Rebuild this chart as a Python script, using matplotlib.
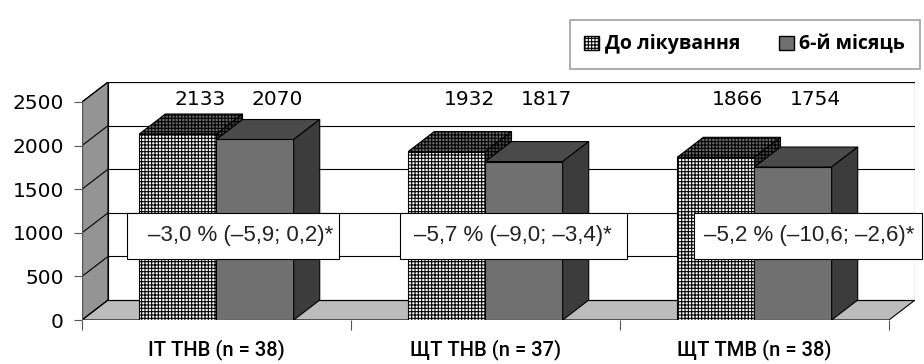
import matplotlib
matplotlib.use("Agg")
from matplotlib import pyplot as plt
from matplotlib.patches import Polygon, Rectangle, Patch

# data
categories = ["ІТ ТНВ (n = 38)", "ЩТ ТНВ (n = 37)", "ЩТ ТМВ (n = 38)"]
series_names = ["До лікування", "6-й місяць"]
before = [2133, 1932, 1866]
month6 = [2070, 1817, 1754]
notes = ["–3,0 % (–5,9; 0,2)*", "–5,7 % (–9,0; –3,4)*", "–5,2 % (–10,6; –2,6)*"]
yticks = [0, 500, 1000, 1500, 2000, 2500]

# layout of the fake 3d box
DX = 0.0968      # depth offset in category units
DY = 229         # depth offset in value units
W = 0.287        # bar width
YMAX = 2500
note_box = [(0.1675, 0.9566), (1.184, 2.025), (2.274, 3.123)]
note_x = [0.588, 1.600, 2.705]
note_y0, note_y1 = 700, 1227
label_y = 2530
label_dx = 0.082
HATCH = "+++++"

plt.rcParams['hatch.linewidth'] = 0.8

fig = plt.figure(figsize=(9.24, 3.64), dpi=100)
ax = fig.add_axes([82/924, 44/364, 833/924, 238/364])
ax.set_xlim(0, 3 + DX)
ax.set_ylim(0, YMAX + DY)
for s in ax.spines.values():
    s.set_visible(False)

# walls and floor
ax.add_patch(Polygon([(0, 0), (DX, DY), (DX, YMAX + DY), (0, YMAX)],
                     facecolor="#949494", edgecolor="black", lw=0.8, zorder=1))
ax.add_patch(Polygon([(0, 0), (3, 0), (3 + DX, DY), (DX, DY)],
                     facecolor="#bcbcbc", edgecolor="black", lw=0.8, zorder=1))
ax.add_patch(Rectangle((DX, DY), 3, YMAX, facecolor="white",
                       edgecolor="black", lw=0.8, zorder=1))
for v in yticks:
    ax.plot([DX, 3 + DX], [v + DY, v + DY], color="black", lw=0.8, zorder=1.5)
    ax.plot([0, DX], [v, v + DY], color="black", lw=0.8, zorder=1.5)
ax.plot([0, 0], [0, YMAX], color="#555555", lw=1.0, zorder=1.6)
ax.plot([0, 3], [0, 0], color="#555555", lw=1.0, zorder=1.6)

# bars
styles = [
    dict(front="white", top="#6a6a6a", side="#4a4a4a", hatch=HATCH),
    dict(front="#707070", top="#4a4a4a", side="#3c3c3c", hatch=None),
]
for j, vals in enumerate([before, month6]):
    st = styles[j]
    z = 3 + j
    xs = [i + 0.5 - W + j * W for i in range(len(vals))]
    ax.bar(xs, vals, width=W, align="edge", color=st["front"], edgecolor="black",
           hatch=st["hatch"], lw=0.8, zorder=z)
    for x0, h in zip(xs, vals):
        x1 = x0 + W
        ax.add_patch(Polygon([(x0, h), (x1, h), (x1 + DX, h + DY), (x0 + DX, h + DY)],
                             facecolor=st["top"], edgecolor="black", hatch=st["hatch"],
                             lw=0.8, zorder=z))
        ax.add_patch(Polygon([(x1, 0), (x1, h), (x1 + DX, h + DY), (x1 + DX, DY)],
                             facecolor=st["side"], edgecolor="black", hatch=st["hatch"],
                             lw=0.8, zorder=z))
        ax.text(x0 + W / 2 + label_dx, label_y, str(h), ha="center", va="center",
                fontsize=14.5, family="DejaVu Sans", zorder=6)

# annotation boxes
for (a, b), tx, t in zip(note_box, note_x, notes):
    ax.add_patch(Rectangle((a, note_y0), b - a, note_y1 - note_y0, facecolor="white",
                           edgecolor="black", lw=0.8, zorder=7, clip_on=False))
    ax.text(tx, (note_y0 + note_y1) / 2, t, ha="center", va="center",
            fontsize=16, family="Liberation Sans", color="#222222", zorder=8,
            clip_on=False)

# axes ticks
ax.set_yticks(yticks)
ax.set_yticklabels([str(v) for v in yticks], fontsize=14.5, family="DejaVu Sans")
ax.tick_params(axis="y", length=6, width=0.8, color="#555555", pad=7)
ax.set_xticks([0, 1, 2, 3])
ax.set_xticklabels([])
ax.tick_params(axis="x", which="major", length=7, width=0.8, color="#555555")
ax.set_xticks([0.5, 1.5, 2.5], minor=True)
ax.set_xticklabels(categories, minor=True, fontsize=14.5, family="Roboto",
                   fontweight="medium")
ax.tick_params(axis="x", which="minor", length=0, pad=14)

# legend
handles = [Patch(facecolor="white", edgecolor="black", hatch=HATCH, label=series_names[0]),
           Patch(facecolor="#707070", edgecolor="black", label=series_names[1])]
leg = fig.legend(handles=handles, loc="upper right", bbox_to_anchor=(1.006, 0.972),
                 ncol=2, frameon=True, fancybox=False, handlelength=0.75,
                 handleheight=0.75, handletextpad=0.3, columnspacing=2.0,
                 borderpad=0.75, prop={"family": "Open Sans", "weight": "bold", "size": 14})
leg.get_frame().set_edgecolor("#888888")
leg.get_frame().set_linewidth(1.2)

fig.savefig("out.png", dpi=100)
